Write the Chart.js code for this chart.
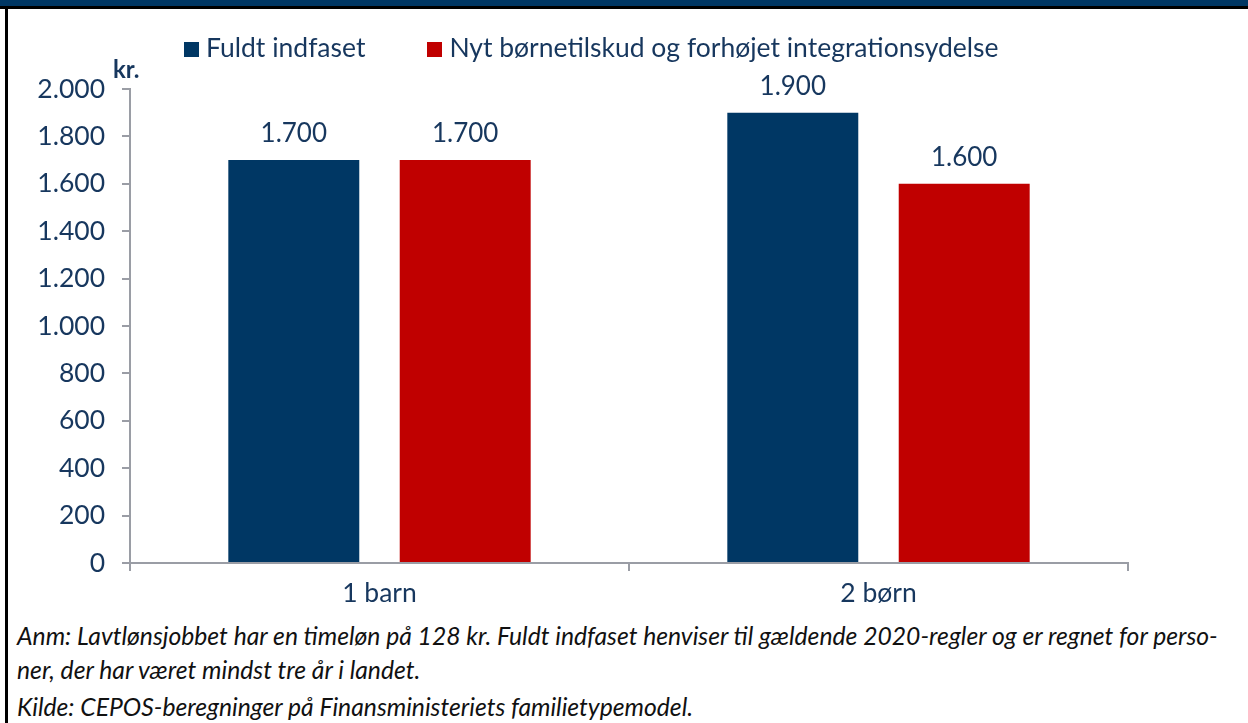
<!DOCTYPE html>
<html lang="da">
<head>
<meta charset="utf-8">
<script src="https://cdn.jsdelivr.net/npm/chart.js@4.4.1/dist/chart.umd.min.js"></script>
<style>
  html, body { margin: 0; padding: 0; background: #fff; }
  body { width: 1248px; height: 723px; position: relative; overflow: hidden; font-family: Lato, sans-serif; }
  #topBand { position: absolute; left: 0; top: 0; width: 1248px; height: 6px; background: #003764; }
  #topLine { position: absolute; left: 0; top: 6px; width: 1248px; height: 3px; background: #000; }
  #leftLine { position: absolute; left: 5px; top: 6px; width: 3px; height: 717px; background: #000; }
  #chartWrap { position: absolute; left: 0; top: 0; width: 1248px; height: 620px; }
  #legend { position: absolute; left: 184px; top: 32px; font-size: 26.5px; line-height: 30px; color: #17375e; white-space: nowrap; }
  #legend .item { display: inline-block; margin-right: 62px; }
  #legend .box { display: inline-block; width: 15px; height: 15px; margin-right: 7px; vertical-align: baseline; }
  .note { position: absolute; left: 17px; font-size: 24.7px; font-style: italic; color: #111; white-space: nowrap; line-height: 26px; }
</style>
</head>
<body>
<div id="chartWrap"><canvas id="chart"></canvas></div>
<div id="legend"></div>
<div id="topBand"></div>
<div id="topLine"></div>
<div id="leftLine"></div>
<div class="note" style="top:623px">Anm: Lavtlønsjobbet har en timeløn på 128 kr. Fuldt indfaset henviser til gældende 2020-regler og er regnet for perso-</div>
<div class="note" style="top:657px">ner, der har været mindst tre år i landet.</div>
<div class="note" style="top:694px">Kilde: CEPOS-beregninger på Finansministeriets familietypemodel.</div>

<script>
const categories = ['1 barn', '2 børn'];
const seriesNames = ['Fuldt indfaset', 'Nyt børnetilskud og forhøjet integrationsydelse'];
const fuldtIndfaset = [1700, 1900];
const nytBoernetilskud = [1700, 1600];
const yTicks = [0, 200, 400, 600, 800, 1000, 1200, 1400, 1600, 1800, 2000];

const navy = '#003764';
const red = '#c00000';
const textBlue = '#17375e';
const axisGrey = '#9a9da5';

// Danish thousands separator
const formatKr = (n) => String(n).replace(/\B(?=(\d{3})+(?!\d))/g, '.');

// Value labels above the bars
const barLabels = {
    id: 'barLabels',
    afterDatasetsDraw(chart) {
        const ctx = chart.ctx;
        ctx.save();
        ctx.font = '26px Lato';
        ctx.fillStyle = textBlue;
        ctx.textAlign = 'center';
        ctx.textBaseline = 'alphabetic';
        chart.data.datasets.forEach((ds, i) => {
            chart.getDatasetMeta(i).data.forEach((bar, j) => {
                ctx.fillText(formatKr(ds.data[j]), bar.x, bar.y - 18);
            });
        });
        ctx.restore();
    }
};

// "kr." unit above the y axis
const unitLabel = {
    id: 'unitLabel',
    afterDraw(chart) {
        const ctx = chart.ctx;
        ctx.save();
        ctx.font = 'bold 24px Lato';
        ctx.fillStyle = textBlue;
        ctx.textAlign = 'left';
        ctx.textBaseline = 'alphabetic';
        ctx.fillText('kr.', chart.chartArea.left - 17, chart.chartArea.top - 11);
        ctx.restore();
    }
};

const ctx = document.getElementById('chart').getContext('2d');
const chart = new Chart(ctx, {
    type: 'bar',
    data: {
        labels: categories,
        datasets: [
            { label: seriesNames[0], data: fuldtIndfaset, backgroundColor: navy },
            { label: seriesNames[1], data: nytBoernetilskud, backgroundColor: red }
        ]
    },
    options: {
        responsive: true,
        maintainAspectRatio: false,
        animation: false,
        categoryPercentage: 0.687,
        barPercentage: 0.764,
        layout: { padding: { top: 89, right: 120, left: 0, bottom: 0 } },
        plugins: {
            legend: { display: false },
            tooltip: { enabled: false }
        },
        scales: {
            x: {
                grid: { drawOnChartArea: false, drawTicks: true, tickLength: 8, color: axisGrey, lineWidth: 2, offset: true },
                border: { display: true, color: axisGrey, width: 2 },
                ticks: { color: textBlue, font: { family: 'Lato', size: 26.5 }, padding: 7 },
                afterFit: (scale) => { scale.height = 57; }
            },
            y: {
                min: 0,
                max: 2000,
                afterBuildTicks: (scale) => { scale.ticks = yTicks.map(v => ({ value: v })); },
                grid: { drawOnChartArea: false, drawTicks: true, tickLength: 8, color: axisGrey, lineWidth: 2 },
                border: { display: true, color: axisGrey, width: 2 },
                ticks: { color: textBlue, font: { family: 'Lato', size: 26.5 }, padding: 17, callback: (v) => formatKr(v) },
                afterFit: (scale) => { scale.width = 130; }
            }
        }
    },
    plugins: [barLabels, unitLabel]
});

// HTML legend built from the datasets
const legendEl = document.getElementById('legend');
chart.data.datasets.forEach(ds => {
    const item = document.createElement('span');
    item.className = 'item';
    const box = document.createElement('span');
    box.className = 'box';
    box.style.background = ds.backgroundColor;
    item.appendChild(box);
    item.appendChild(document.createTextNode(ds.label));
    legendEl.appendChild(item);
});
</script>
</body>
</html>
